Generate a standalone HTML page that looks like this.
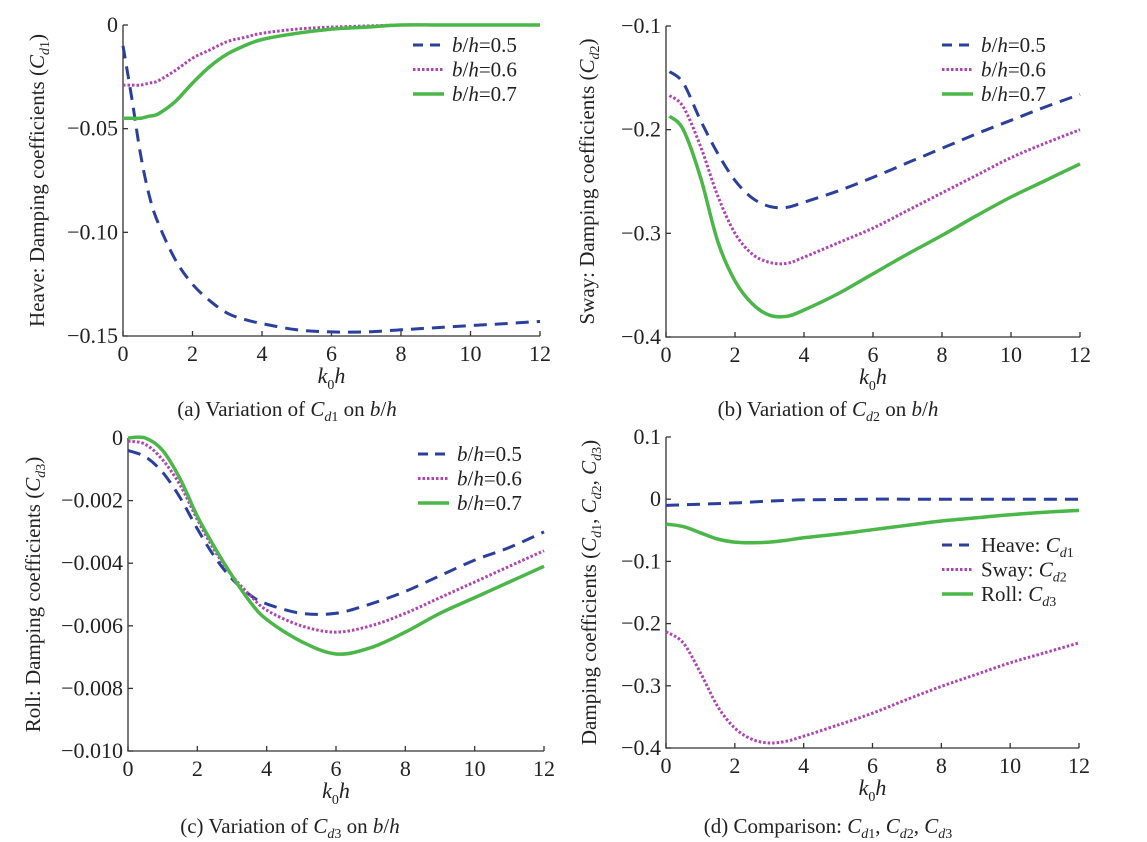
<!DOCTYPE html>
<html><head><meta charset="utf-8">
<style>
html,body{margin:0;padding:0;background:#fff;}
svg{display:block;font-family:"Liberation Serif",serif;}
</style></head>
<body>
<svg id="chart" width="1147" height="842" viewBox="0 0 1147 842" xmlns="http://www.w3.org/2000/svg"></svg>
<script>
const xValues = [0,0.25,0.5,0.75,1,1.5,2,2.5,3,3.5,4,5,6,7,8,9,10,11,12];
const xTicks = [0,2,4,6,8,10,12];
// Panel a
const aBlue  = [-0.010,-0.035,-0.062,-0.082,-0.095,-0.113,-0.125,-0.133,-0.139,-0.142,-0.144,-0.147,-0.148,-0.148,-0.147,-0.146,-0.145,-0.144,-0.143];
const aMag   = [-0.029,-0.029,-0.029,-0.028,-0.027,-0.022,-0.016,-0.012,-0.008,-0.006,-0.004,-0.002,-0.001,-0.0005,0,0,0,0,0];
const aGreen = [-0.045,-0.045,-0.045,-0.044,-0.043,-0.037,-0.028,-0.020,-0.014,-0.010,-0.007,-0.004,-0.002,-0.001,0,0,0,0,0];
const aTicks = [0,-0.05,-0.10,-0.15];
const aTickLabels = ["0","\u22120.05","\u22120.10","\u22120.15"];
// Panel b
const bX = [0.1,0.5,1,1.5,2,2.5,3,3.5,4,5,6,7,8,9,10,11,12];
const bBlue  = [-0.144,-0.155,-0.191,-0.223,-0.249,-0.266,-0.274,-0.275,-0.270,-0.259,-0.246,-0.232,-0.218,-0.204,-0.191,-0.178,-0.166];
const bMag   = [-0.167,-0.178,-0.216,-0.264,-0.300,-0.320,-0.328,-0.329,-0.323,-0.309,-0.295,-0.278,-0.261,-0.244,-0.227,-0.213,-0.200];
const bGreen = [-0.187,-0.200,-0.246,-0.308,-0.346,-0.368,-0.379,-0.380,-0.374,-0.358,-0.339,-0.320,-0.302,-0.283,-0.265,-0.249,-0.233];
const bTicks = [-0.1,-0.2,-0.3,-0.4];
const bTickLabels = ["\u22120.1","\u22120.2","\u22120.3","\u22120.4"];
// Panel c
const cX = [0,0.5,1,1.5,2,2.5,3,3.5,4,5,6,7,8,9,10,11,12];
const cBlue  = [-0.0004,-0.0006,-0.0011,-0.0019,-0.0029,-0.0038,-0.0045,-0.0050,-0.0053,-0.0056,-0.0056,-0.0053,-0.0049,-0.0044,-0.0039,-0.0035,-0.0030];
const cMag   = [-0.0001,-0.0002,-0.0007,-0.0015,-0.0026,-0.0036,-0.0044,-0.0050,-0.0055,-0.0060,-0.0062,-0.0060,-0.0056,-0.0051,-0.0046,-0.0041,-0.0036];
const cGreen = [0,0,-0.0004,-0.0013,-0.0025,-0.0035,-0.0044,-0.0052,-0.0058,-0.0065,-0.0069,-0.0067,-0.0062,-0.0056,-0.0051,-0.0046,-0.0041];
const cTicks = [0,-0.002,-0.004,-0.006,-0.008,-0.010];
const cTickLabels = ["0","\u22120.002","\u22120.004","\u22120.006","\u22120.008","\u22120.010"];
// Panel d
const dX = [0,0.5,1,1.5,2,2.5,3,3.5,4,5,6,7,8,9,10,11,12];
const dHeave = [-0.010,-0.009,-0.008,-0.007,-0.006,-0.0045,-0.003,-0.002,-0.001,-0.0005,0,0,0,0,0,0,0];
const dSway  = [-0.213,-0.231,-0.279,-0.333,-0.368,-0.386,-0.392,-0.389,-0.381,-0.363,-0.344,-0.322,-0.301,-0.282,-0.263,-0.247,-0.231];
const dRoll  = [-0.040,-0.044,-0.054,-0.064,-0.069,-0.070,-0.069,-0.066,-0.062,-0.056,-0.049,-0.042,-0.035,-0.030,-0.025,-0.021,-0.018];
const dTicks = [0.1,0,-0.1,-0.2,-0.3,-0.4];
const dTickLabels = ["0.1","0","\u22120.1","\u22120.2","\u22120.3","\u22120.4"];

const NS="http://www.w3.org/2000/svg";
const svg=document.getElementById('chart');
const BLUE="#2b3f9c", MAG="#b043b3", GREEN="#4bb749";
const styles={
  blue:{stroke:BLUE,w:3,dash:"13,8"},
  mag:{stroke:MAG,w:3,dash:"2.5,2"},
  green:{stroke:GREEN,w:3.5,dash:null}
};
function mk(tag,parent){const e=document.createElementNS(NS,tag);parent.appendChild(e);return e;}
function smooth(pts){
  let d="M"+pts[0][0].toFixed(1)+","+pts[0][1].toFixed(1);
  for(let i=0;i<pts.length-1;i++){
    const p0=pts[Math.max(i-1,0)],p1=pts[i],p2=pts[i+1],p3=pts[Math.min(i+2,pts.length-1)];
    const c1=[p1[0]+(p2[0]-p0[0])/6,p1[1]+(p2[1]-p0[1])/6];
    const c2=[p2[0]-(p3[0]-p1[0])/6,p2[1]-(p3[1]-p1[1])/6];
    d+=" C"+c1[0].toFixed(1)+","+c1[1].toFixed(1)+" "+c2[0].toFixed(1)+","+c2[1].toFixed(1)+" "+p2[0].toFixed(1)+","+p2[1].toFixed(1);
  }
  return d;
}
function panel(cfg){
  const g=mk('g',svg);
  
  
  const sx=v=>cfg.x0+(cfg.x1-cfg.x0)*v/12;
  const sy=v=>cfg.y0+(cfg.y1-cfg.y0)*(cfg.ymax-v)/(cfg.ymax-cfg.ymin);
  const ax=mk('path',g);
  
  
  ax.setAttribute('d',`M${cfg.x0},${cfg.y0} V${cfg.y1} H${cfg.x1}`);
  ax.setAttribute('stroke','#333');ax.setAttribute('fill','none');ax.setAttribute('stroke-width','1.3');
  xTicks.forEach(t=>{
    const l=mk('line',g);
    
    
    l.setAttribute('x1',sx(t));l.setAttribute('x2',sx(t));l.setAttribute('y1',cfg.y1);l.setAttribute('y2',cfg.y1-5);
    l.setAttribute('stroke','#333');l.setAttribute('stroke-width','1.3');
    const tx=mk('text',g);
    
    
    tx.setAttribute('x',sx(t));tx.setAttribute('y',cfg.y1+25);tx.setAttribute('text-anchor','middle');
    tx.setAttribute('font-size','22');tx.setAttribute('fill','#222');tx.textContent=String(t);
  });
  cfg.ticks.forEach((t,i)=>{
    const l=mk('line',g);
    
    
    l.setAttribute('x1',cfg.x0);l.setAttribute('x2',cfg.x0+5);l.setAttribute('y1',sy(t));l.setAttribute('y2',sy(t));
    l.setAttribute('stroke','#333');l.setAttribute('stroke-width','1.3');
    const tx=mk('text',g);
    
    
    tx.setAttribute('x',cfg.x0-5);tx.setAttribute('y',sy(t)+7);tx.setAttribute('text-anchor','end');
    tx.setAttribute('font-size','22');tx.setAttribute('fill','#222');tx.textContent=cfg.labels[i];
  });
  const xt=mk('text',g);
  
  
  xt.setAttribute('x',(cfg.x0+cfg.x1)/2);xt.setAttribute('y',cfg.y1+47);xt.setAttribute('text-anchor','middle');
  xt.setAttribute('font-size','22');xt.setAttribute('font-style','italic');xt.setAttribute('fill','#222');
  xt.innerHTML='k<tspan font-size="14" baseline-shift="-6" font-style="normal">0</tspan>h';
  const yt=mk('text',g);
  
  
  const cy=(cfg.y0+cfg.y1)/2;
  yt.setAttribute('transform',`translate(${cfg.ytx},${cy}) rotate(-90)`);
  yt.setAttribute('text-anchor','middle');yt.setAttribute('font-size','21');yt.setAttribute('fill','#222');
  yt.innerHTML=cfg.ytitle;
  const cap=mk('text',g);
  
  
  cap.setAttribute('x',cfg.capx);cap.setAttribute('y',cfg.capy);cap.setAttribute('text-anchor','middle');
  cap.setAttribute('font-size','21');cap.setAttribute('fill','#222');cap.innerHTML=cfg.caption;
  cfg.series.forEach(s=>{
    const st=styles[s.style];
    const p=mk('path',g);
    
    
    p.setAttribute('d',smooth(s.xs.map((x,i)=>[sx(x),sy(s.ys[i])])));
    p.setAttribute('fill','none');p.setAttribute('stroke',st.stroke);p.setAttribute('stroke-width',st.w);
    if(st.dash)p.setAttribute('stroke-dasharray',st.dash);
  });
  cfg.series.forEach((s,i)=>{
    const st=styles[s.style];
    const y=cfg.ly+i*24.5;
    const l=mk('line',g);
    
    
    l.setAttribute('x1',cfg.lx);l.setAttribute('x2',cfg.lx+31);l.setAttribute('y1',y);l.setAttribute('y2',y);
    l.setAttribute('stroke',st.stroke);l.setAttribute('stroke-width',st.w);
    if(st.dash)l.setAttribute('stroke-dasharray',s.style==='blue'?'10,7':st.dash);
    const t=mk('text',g);
    
    
    t.setAttribute('x',cfg.lx+39);t.setAttribute('y',y+7);t.setAttribute('font-size','21');t.setAttribute('fill','#222');
    t.innerHTML=s.label;
  });
}
const bh=v=>`<tspan font-style="italic">b</tspan>/<tspan font-style="italic">h</tspan>=${v}`;
const Cd=n=>`<tspan font-style="italic">C</tspan><tspan font-size="14" baseline-shift="-5"><tspan font-style="italic">d</tspan>${n}</tspan>`;
panel({name:'panel-a-heave',x0:123,x1:540,y0:25,y1:336,ymax:0,ymin:-0.15,ticks:aTicks,labels:aTickLabels,
  ytx:44,ytitle:'Heave: Damping coefficients ('+Cd(1)+')',capx:287,capy:416,
  caption:'(a) Variation of '+Cd(1)+' on <tspan font-style="italic">b</tspan>/<tspan font-style="italic">h</tspan>',
  lx:413,ly:45,series:[
  {name:'series-bh-0.5',style:'blue',xs:xValues,ys:aBlue,label:bh('0.5')},
  {name:'series-bh-0.6',style:'mag',xs:xValues,ys:aMag,label:bh('0.6')},
  {name:'series-bh-0.7',style:'green',xs:xValues,ys:aGreen,label:bh('0.7')}]});
panel({name:'panel-b-sway',x0:666,x1:1080,y0:26,y1:337,ymax:-0.1,ymin:-0.4,ticks:bTicks,labels:bTickLabels,
  ytx:594,ytitle:'Sway: Damping coefficients ('+Cd(2)+')',capx:828,capy:416,
  caption:'(b) Variation of '+Cd(2)+' on <tspan font-style="italic">b</tspan>/<tspan font-style="italic">h</tspan>',
  lx:942,ly:45,series:[
  {name:'series-bh-0.5',style:'blue',xs:bX,ys:bBlue,label:bh('0.5')},
  {name:'series-bh-0.6',style:'mag',xs:bX,ys:bMag,label:bh('0.6')},
  {name:'series-bh-0.7',style:'green',xs:bX,ys:bGreen,label:bh('0.7')}]});
panel({name:'panel-c-roll',x0:128,x1:544,y0:438,y1:751,ymax:0,ymin:-0.010,ticks:cTicks,labels:cTickLabels,
  ytx:40,ytitle:'Roll: Damping coefficients ('+Cd(3)+')',capx:290,capy:833,
  caption:'(c) Variation of '+Cd(3)+' on <tspan font-style="italic">b</tspan>/<tspan font-style="italic">h</tspan>',
  lx:418,ly:454,series:[
  {name:'series-bh-0.5',style:'blue',xs:cX,ys:cBlue,label:bh('0.5')},
  {name:'series-bh-0.6',style:'mag',xs:cX,ys:cMag,label:bh('0.6')},
  {name:'series-bh-0.7',style:'green',xs:cX,ys:cGreen,label:bh('0.7')}]});
panel({name:'panel-d-comparison',x0:666,x1:1079,y0:437,y1:748,ymax:0.1,ymin:-0.4,ticks:dTicks,labels:dTickLabels,
  ytx:596,ytitle:'Damping coefficients ('+Cd(1)+', '+Cd(2)+', '+Cd(3)+')',capx:828,capy:833,
  caption:'(d) Comparison: '+Cd(1)+', '+Cd(2)+', '+Cd(3),
  lx:942,ly:545,series:[
  {name:'series-heave',style:'blue',xs:dX,ys:dHeave,label:'Heave: '+Cd(1)},
  {name:'series-sway',style:'mag',xs:dX,ys:dSway,label:'Sway: '+Cd(2)},
  {name:'series-roll',style:'green',xs:dX,ys:dRoll,label:'Roll: '+Cd(3)}]});
</script>
</body></html>
